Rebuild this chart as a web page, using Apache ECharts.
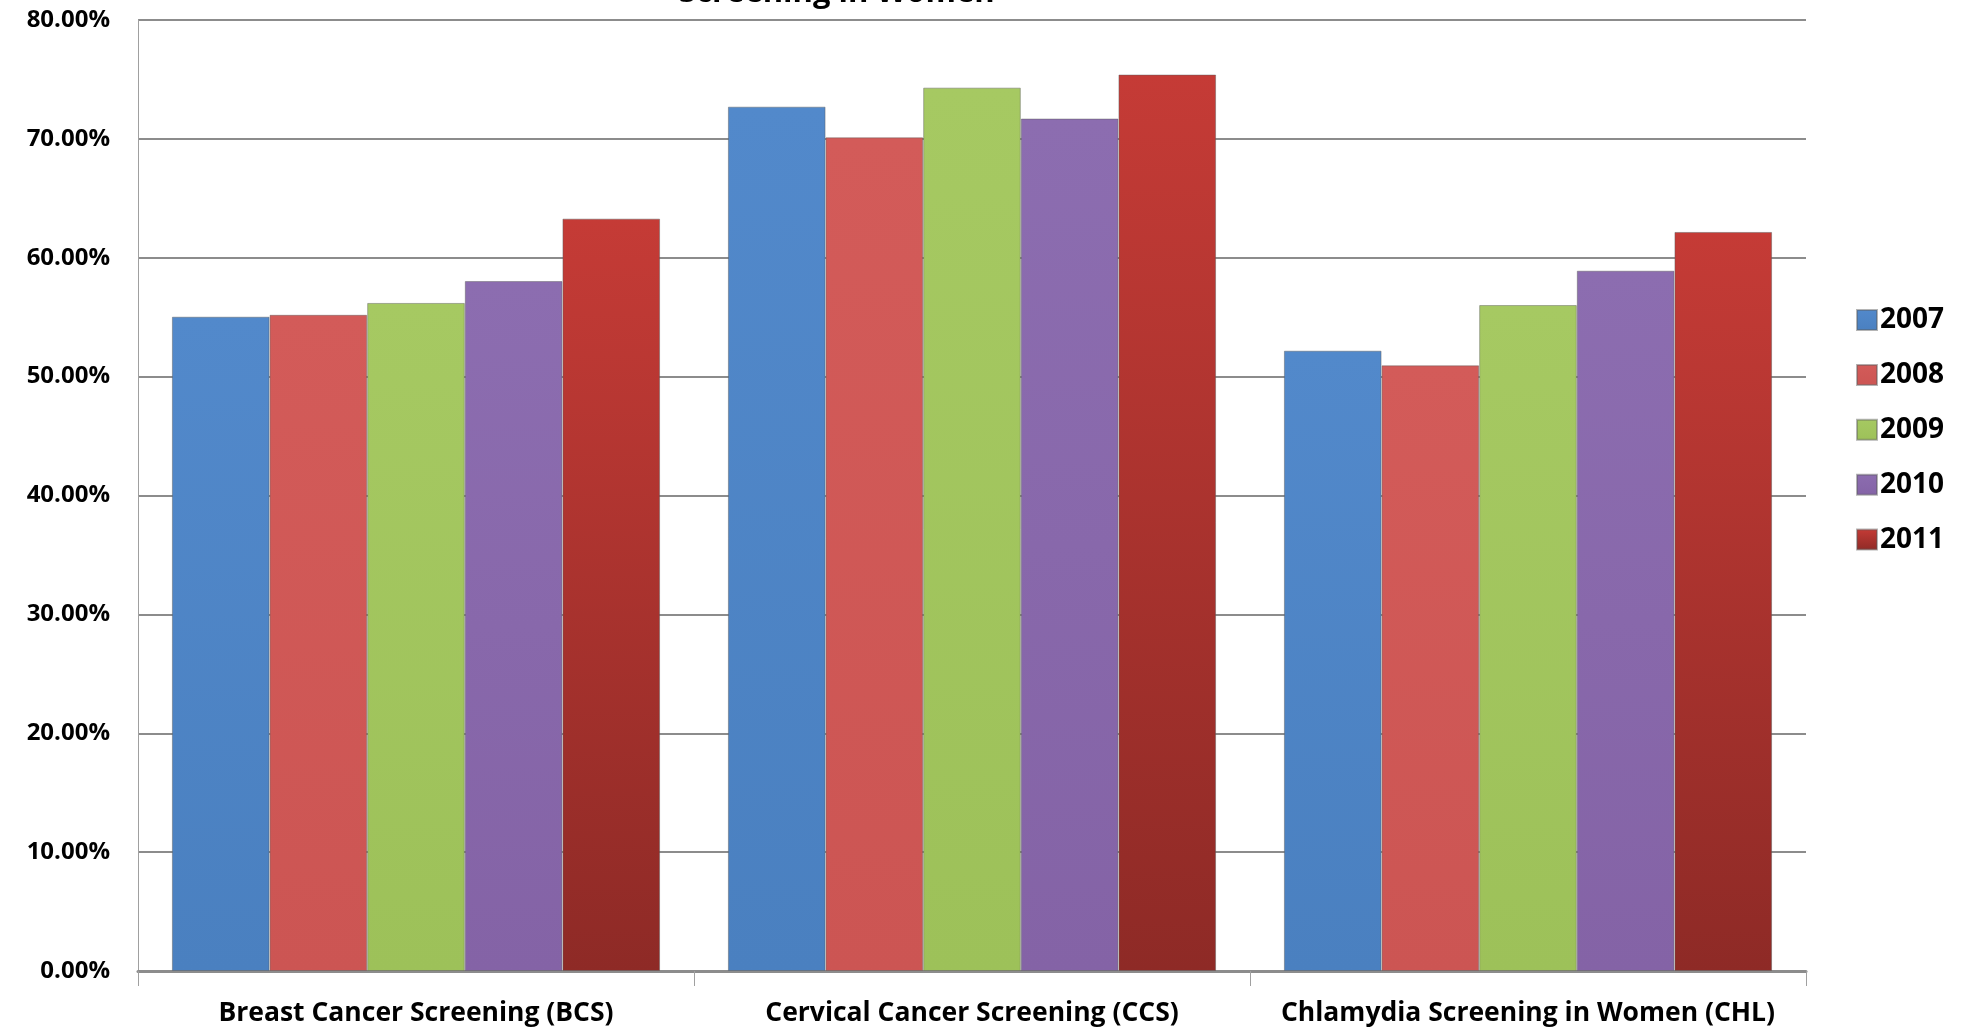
<!DOCTYPE html>
<html><head><meta charset="utf-8">
<script src="https://cdn.jsdelivr.net/npm/echarts@6/dist/echarts.min.js"></script>
<style>html,body{margin:0;padding:0;background:#fff}#c{width:1969px;height:1030px}</style>
</head><body><div id="c"></div>
<script>
const categories = ['Breast Cancer Screening (BCS)', 'Cervical Cancer Screening (CCS)', 'Chlamydia Screening in Women (CHL)'];
const years = ['2007', '2008', '2009', '2010', '2011'];
const v2007 = [55.04, 72.71, 52.18];
const v2008 = [55.20, 70.13, 50.95];
const v2009 = [56.20, 74.31, 56.02];
const v2010 = [58.04, 71.71, 58.91];
const v2011 = [63.29, 75.41, 62.17];
const yTicks = [0, 10, 20, 30, 40, 50, 60, 70, 80];

const FONT = '"Open Sans"';
const seriesValues = [v2007, v2008, v2009, v2010, v2011];
const colors = [
  {top:'#5289CB', bot:'#4A80C0'},
  {top:'#D35B59', bot:'#CC5553'},
  {top:'#A6C962', bot:'#9DC159'},
  {top:'#8C6DB0', bot:'#8463A6'},
  {top:'#C53B36', bot:'#8E2A26'}
];
const chart = echarts.init(document.getElementById('c'));
chart.setOption({
  animation: false,
  backgroundColor: '#fff',
  graphic: [{
    type: 'text', left: 679, top: -22,
    style: {text: 'Screening in Women', font: 'bold 31px ' + FONT, fill: '#000'}
  }],
  legend: {
    orient: 'vertical', left: 1851, top: 301,
    itemWidth: 20, itemHeight: 20, itemGap: 26.9,
    icon: 'rect',
    textStyle: {fontFamily: FONT, fontWeight: 'bold', fontSize: 28, color: '#000', padding: [0,0,0,-2]},
    data: years
  },
  grid: {left: 138, right: 163, top: 20, bottom: 59, containLabel: false},
  xAxis: {
    type: 'category', data: categories,
    axisLine: {lineStyle: {color: '#8c8c8c', width: 3}},
    axisTick: {show: true, length: 15, lineStyle: {color: '#a0a0a0', width: 1}},
    axisLabel: {interval: 0, fontFamily: FONT, fontWeight: 'bold', fontSize: 26.5, color: '#000', margin: 29}
  },
  yAxis: {
    type: 'value', min: 0, max: 80, interval: 10,
    axisLine: {show: true, lineStyle: {color: '#a0a0a0', width: 1}},
    axisTick: {show: false},
    splitLine: {lineStyle: {color: '#8c8c8c', width: 2}},
    axisLabel: {fontFamily: FONT, fontWeight: 'bold', fontSize: 24, color: '#000', margin: 28,
      formatter: v => yTicks.includes(v) ? v.toFixed(2) + '%' : ''}
  },
  series: years.map((y, i) => ({
    name: y, type: 'bar', data: seriesValues[i],
    barGap: '0%', barCategoryGap: '12.2%',
    itemStyle: {
      color: new echarts.graphic.LinearGradient(0, 0, 0, 1, [
        {offset: 0, color: colors[i].top}, {offset: 1, color: colors[i].bot}]),
      borderColor: 'rgba(90,90,90,0.45)', borderWidth: 1
    }
  }))
});
</script></body></html>
